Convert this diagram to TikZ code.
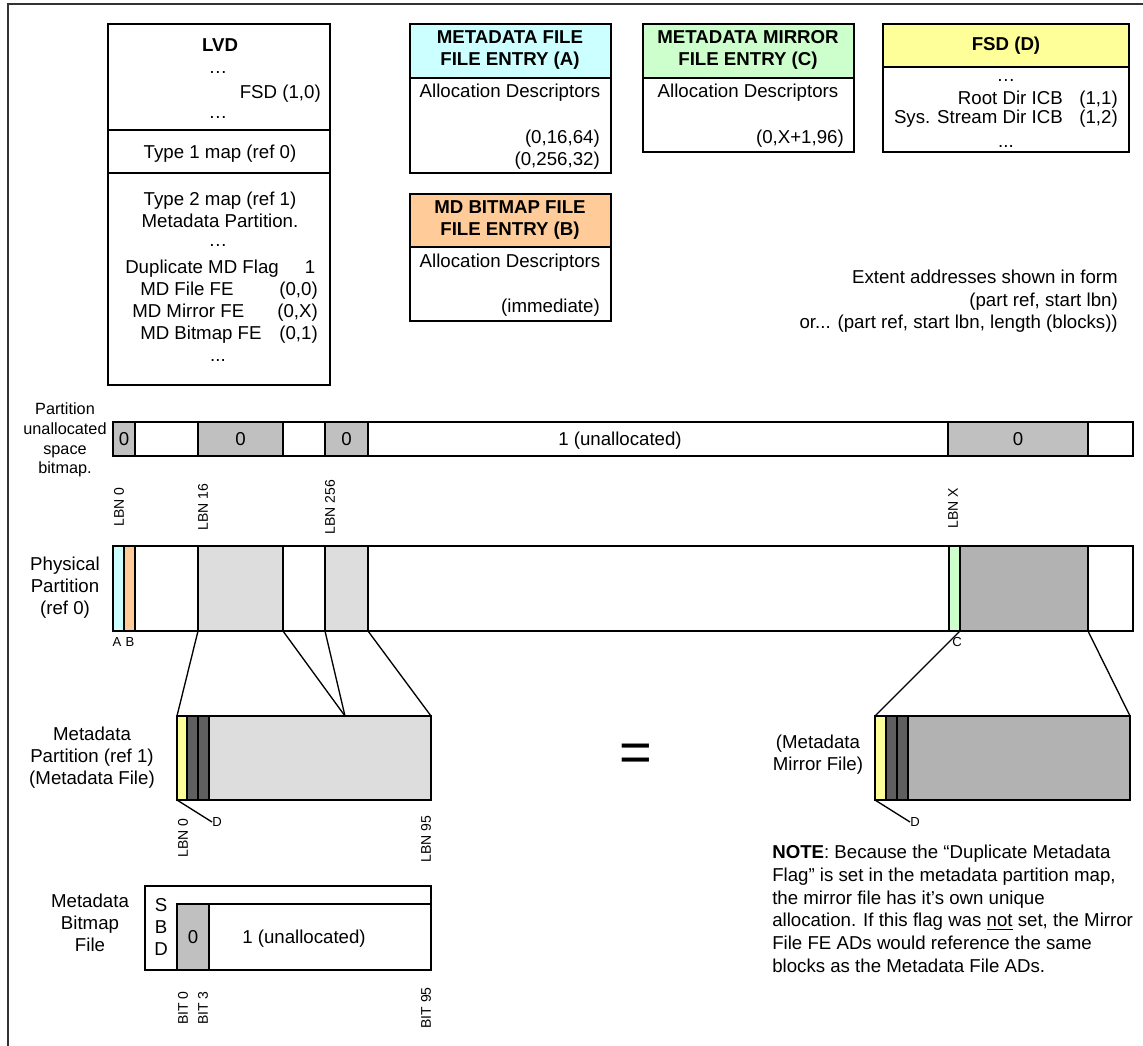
\documentclass[tikz,border=0pt]{standalone}
\usepackage{fontspec}
\setmainfont{Liberation Sans}
\definecolor{mdcyan}{HTML}{CCFFFF}
\definecolor{mdgreen}{HTML}{CCFFCC}
\definecolor{mdpeach}{HTML}{FFCC99}
\definecolor{mdyellow}{HTML}{FFFF99}
\definecolor{bmgray}{HTML}{C0C0C0}
\definecolor{ltgray}{HTML}{DDDDDD}
\definecolor{mdgray}{HTML}{B2B2B2}
\definecolor{dkgray}{HTML}{5F5F5F}
\newcommand\fmain{\fontsize{14}{16.5}\selectfont}
\newcommand\fnote{\fontsize{14}{17}\selectfont}
\newcommand\fbm{\fontsize{12.2}{14.7}\selectfont}
\newcommand\fsmall{\fontsize{10.5}{12}\selectfont}
\newcommand\ftiny{\fontsize{9.8}{11}\selectfont}
\newcommand\blk[7]{%
  \pgfmathsetmacro\blkw{(#4-#2)*0.75}%
  \pgfmathsetmacro\blkh{(#5-#3)*0.75}%
  \node[#6, anchor=north west, minimum width=\blkw pt, minimum height=\blkh pt] (#1) at (#2,#3) {#7};}
\tikzset{
  cell/.style={draw, line width=1.5pt, inner sep=0pt, outer sep=0pt, font=\fmain},
  txt/.style={font=\fmain, inner sep=0pt, text height=11pt, text depth=1pt},
  dots/.style={font=\fmain, inner sep=0pt, text height=2pt, text depth=0pt},
  txtb/.style={font=\fmain\bfseries, inner sep=0pt, align=center},
  lab/.style={font=\fmain, inner sep=0pt, align=center},
  rlab/.style={font=\fsmall, inner sep=0pt, rotate=90},
  tlab/.style={font=\ftiny, inner sep=0pt},
  conn/.style={line width=1pt},
  frame/.style={line width=1.5pt, draw=black!80}
}
\begin{document}
\begin{tikzpicture}[x=0.75pt,y=-0.75pt]
\useasboundingbox (0,0) rectangle (1143,1046);
\draw[frame] (7.5,1046) -- (7.5,3.5) -- (1143,3.5);

% ---------- LVD ----------
\blk{lvdA}{108}{24}{330}{130}{cell}{}
\blk{lvdB}{108}{130}{330}{173}{cell}{}
\blk{lvdC}{108}{173}{330}{385}{cell}{}
\node[txtb] (lvdT) at (220,45) {LVD};
\node[dots] (lvdd1) at (218,72) {…};
\node[txt, anchor=east] (lvdfsd) at (321,92) {FSD (1,0)};
\node[dots] (lvdd2) at (218,117) {…};
\node[txt] (lvdt1) at (220,152) {Type 1 map (ref 0)};
\node[txt] (lvdt2) at (220,199) {Type 2 map (ref 1)};
\node[txt] (lvdmp) at (220,221) {Metadata Partition.};
\node[dots] (lvdd3) at (218,245) {…};
\node[txt, anchor=west] (lvddup) at (125,267) {Duplicate MD Flag};
\node[txt] (lvddupv) at (310,267) {1};
\node[txt, anchor=west] (lvdfe) at (140,289) {MD File FE};
\node[txt, anchor=east] (lvdfev) at (318,289) {(0,0)};
\node[txt, anchor=west] (lvdmi) at (132,311) {MD Mirror FE};
\node[txt, anchor=east] (lvdmiv) at (318,311) {(0,X)};
\node[txt, anchor=west] (lvdbm) at (140,333) {MD Bitmap FE};
\node[txt, anchor=east] (lvdbmv) at (318,333) {(0,1)};
\node[dots] (lvdd4) at (218,360) {...};

% ---------- Metadata File FE (A) ----------
\blk{feAh}{410}{24}{611}{78}{cell,fill=mdcyan}{}
\blk{feAb}{410}{78}{611}{173}{cell}{}
\node[txtb] (feAt) at (510,50) {METADATA FILE\\FILE ENTRY (A)};
\node[txt] (feAad) at (510,91) {Allocation Descriptors};
\node[txt, anchor=east] (feAx1) at (600,137) {(0,16,64)};
\node[txt, anchor=east] (feAx2) at (600,159) {(0,256,32)};

% ---------- Metadata Mirror FE (C) ----------
\blk{feCh}{643}{24}{854}{78}{cell,fill=mdgreen}{}
\blk{feCb}{643}{78}{854}{152}{cell}{}
\node[txtb] (feCt) at (748,50) {METADATA MIRROR\\FILE ENTRY (C)};
\node[txt] (feCad) at (748,91) {Allocation Descriptors};
\node[txt, anchor=east] (feCx1) at (844,137) {(0,X+1,96)};

% ---------- MD Bitmap FE (B) ----------
\blk{feBh}{410}{194}{611}{247}{cell,fill=mdpeach}{}
\blk{feBb}{410}{247}{611}{321}{cell}{}
\node[txtb] (feBt) at (510,220) {MD BITMAP FILE\\FILE ENTRY (B)};
\node[txt] (feBad) at (510,261) {Allocation Descriptors};
\node[txt, anchor=east] (feBx1) at (600,306) {(immediate)};

% ---------- FSD (D) ----------
\blk{fsdh}{883}{24}{1129}{67}{cell,fill=mdyellow}{}
\blk{fsdb}{883}{67}{1129}{152}{cell}{}
\node[txtb] (fsdt) at (1006,46) {FSD (D)};
\node[dots] (fsdd1) at (1006,80) {…};
\node[txt, anchor=east] (fsdr) at (1063,98) {Root Dir ICB};
\node[txt, anchor=east] (fsdrv) at (1118,98) {(1,1)};
\node[txt, anchor=east] (fsds) at (1063,117) {Sys. Stream Dir ICB};
\node[txt, anchor=east] (fsdsv) at (1118,117) {(1,2)};
\node[dots] (fsdd2) at (1006,146) {...};

% ---------- Extent note ----------
\node[txt, anchor=east] (ext1) at (1118,277) {Extent addresses shown in form};
\node[txt, anchor=east] (ext2) at (1118,300) {(part ref, start lbn)};
\node[txt, anchor=east] (ext3) at (1118,322) {or... (part ref, start lbn, length (blocks))};

% ---------- Partition unallocated space bitmap ----------
\node[lab, font=\fbm] (bmlab) at (65,440) {Partition\\unallocated\\space\\bitmap.};
\blk{b1}{113}{422}{135}{456}{cell,fill=bmgray}{0}
\blk{b2}{135}{422}{198}{456}{cell}{}
\blk{b3}{198}{422}{283}{456}{cell,fill=bmgray}{0}
\blk{b4}{283}{422}{325}{456}{cell}{}
\blk{b5}{325}{422}{368}{456}{cell,fill=bmgray}{0}
\blk{b6}{368}{422}{948}{456}{cell}{}
\blk{b7}{948}{422}{1088}{456}{cell,fill=bmgray}{0}
\blk{b8}{1088}{422}{1133}{456}{cell}{}
\node[txt] (b6t) at (620,439) {1 (unallocated)};

\node[rlab] (lbn0) at (119,507) {LBN 0};
\node[rlab] (lbn16) at (203,507) {LBN 16};
\node[rlab] (lbn256) at (330,507) {LBN 256};
\node[rlab] (lbnx) at (953,508) {LBN X};

% ---------- Physical partition ----------
\node[lab] (pplab) at (65,588) {Physical\\Partition\\(ref 0)};
\blk{pA}{113}{546}{124}{631}{cell,fill=mdcyan}{}
\blk{pB}{124}{546}{135}{631}{cell,fill=mdpeach}{}
\blk{p2}{135}{546}{198}{631}{cell}{}
\blk{p3}{198}{546}{283}{631}{cell,fill=ltgray}{}
\blk{p4}{283}{546}{325}{631}{cell}{}
\blk{p5}{325}{546}{368}{631}{cell,fill=ltgray}{}
\blk{p6}{368}{546}{949}{631}{cell}{}
\blk{pC}{949}{546}{960}{631}{cell,fill=mdgreen}{}
\blk{p7}{960}{546}{1088}{631}{cell,fill=mdgray}{}
\blk{p8}{1088}{546}{1133}{631}{cell}{}
\node[tlab] (labA) at (117,642) {A};
\node[tlab] (labB) at (130,642) {B};
\node[tlab] (labC) at (957,642) {C};

% ---------- Metadata partition ----------
\node[lab] (mplab) at (92,758) {Metadata\\Partition (ref 1)\\(Metadata File)};
\blk{mY}{177}{716}{187}{800}{cell,fill=mdyellow}{}
\blk{mD1}{187}{716}{198}{800}{cell,fill=dkgray}{}
\blk{mD2}{198}{716}{209}{800}{cell,fill=dkgray}{}
\blk{mR}{209}{716}{431}{800}{cell,fill=ltgray}{}
\coordinate (mmid) at (345,716);
\draw[conn] (p3.south west) -- (mY.north west);
\draw[conn] (p3.south east) -- (mmid);
\draw[conn] (p5.south west) -- (mmid);
\draw[conn] (p5.south east) -- (mR.north east);
\node[tlab, anchor=west] (mDl) at (212,822) {D};
\draw[conn] (mY.south west) -- (mDl.west);
\node[rlab] (mlbn0) at (183,838) {LBN 0};
\node[rlab] (mlbn95) at (426,839) {LBN 95};

% ---------- equals ----------
\node[inner sep=0pt, font=\fontsize{42}{42}\selectfont] (eq) at (636,758) {=};

% ---------- Mirror file ----------
\node[lab] (mflab) at (818,755) {(Metadata\\Mirror File)};
\blk{fY}{875}{716}{886}{800}{cell,fill=mdyellow}{}
\blk{fD1}{886}{716}{897}{800}{cell,fill=dkgray}{}
\blk{fD2}{897}{716}{908}{800}{cell,fill=dkgray}{}
\blk{fR}{908}{716}{1130}{800}{cell,fill=mdgray}{}
\draw[conn] (p7.south west) -- (fY.north west);
\draw[conn] (p7.south east) -- (fR.north east);
\node[tlab, anchor=west] (fDl) at (910,822) {D};
\draw[conn] (fY.south west) -- (fDl.west);

% ---------- NOTE ----------
\node[font=\fnote, inner sep=0pt, align=left, anchor=north west] (note) at (772,845)
 {\textbf{NOTE}: Because the “Duplicate Metadata\\Flag” is set in the metadata partition map,\\the mirror file has it’s own unique\\allocation. If this flag was \underline{not} set, the Mirror\\File FE ADs would reference the same\\blocks as the Metadata File ADs.};

% ---------- Metadata bitmap file ----------
\node[lab] (mbflab) at (90,923) {Metadata\\Bitmap\\File};
\blk{bfo}{145}{886}{431}{970}{cell}{}
\coordinate (bfi) at (177,904);
\draw[line width=1.5pt] (bfi) -- (bfi -| bfo.east);
\blk{bf0}{177}{904}{209}{970}{cell,fill=bmgray}{0}
\node[txt] (bf1) at (304,937) {1 (unallocated)};
\node[lab] (sbd) at (161,927) {S\\B\\D};
\node[rlab] (bit0) at (183,1008) {BIT 0};
\node[rlab] (bit3) at (203,1008) {BIT 3};
\node[rlab] (bit95) at (426,1008) {BIT 95};
\end{tikzpicture}
\end{document}
